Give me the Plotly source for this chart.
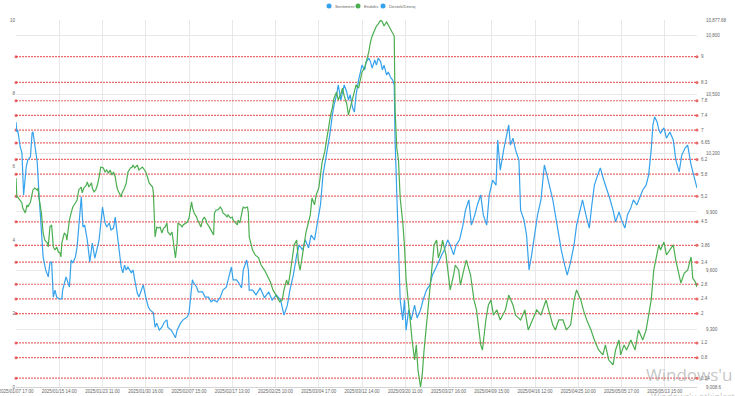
import plotly.graph_objects as go

# ---------------- data ----------------
x_tick_labels = [
    "2025/01/07 17:00", "2025/01/15 14:00", "2025/01/23 11:00", "2025/01/30 16:00",
    "2025/02/07 15:00", "2025/02/17 13:00", "2025/02/25 10:00", "2025/03/04 17:00",
    "2025/03/12 14:00", "2025/03/20 11:00", "2025/03/27 16:00", "2025/04/09 15:00",
    "2025/04/16 12:00", "2025/04/25 10:00", "2025/05/05 17:00", "2025/05/13 15:00",
]
points_per_label = 51
n_points = 804

sentiment_idx = [
    0, 1, 2, 5, 7, 9, 12, 14, 17, 19, 20, 22, 25, 27, 31, 32, 35, 38, 40, 42, 44, 46, 48, 51, 54, 55,
    59, 61, 63, 65, 67, 70, 72, 74, 77, 79, 81, 84, 85, 87, 90, 91, 93, 96, 98, 102, 103, 105, 107,
    110, 112, 115, 117, 119, 122, 124, 126, 128, 130, 132, 136, 138, 140, 143, 145, 149, 150, 153,
    156, 158, 162, 164, 166, 169, 172, 175, 178, 179, 183, 185, 188, 190, 194, 197, 202, 204, 208,
    209, 213, 215, 220, 223, 227, 230, 233, 237, 241, 244, 248, 251, 254, 256, 260, 262, 266, 268,
    272, 274, 275, 279, 283, 288, 293, 298, 302, 307, 312, 316, 320, 323, 327, 331, 334, 338, 341,
    345, 348, 352, 355, 359, 362, 366, 370, 373, 375, 378, 380, 383, 385, 387, 390, 392, 394, 397,
    399, 401, 404, 406, 408, 411, 413, 416, 418, 420, 423, 425, 427, 430, 432, 434, 437, 439, 442,
    444, 446, 447, 449, 451, 453, 456, 458, 460, 463, 466, 470, 473, 477, 480, 484, 488, 491, 495,
    498, 502, 505, 509, 512, 516, 519, 523, 527, 530, 534, 537, 541, 544, 548, 551, 555, 558, 562,
    566, 568, 571, 575, 579, 581, 583, 586, 589, 593, 595, 599, 602, 605, 608, 612, 615, 619, 623,
    626, 630, 633, 636, 640, 643, 647, 650, 654, 658, 661, 665, 668, 672, 676, 679, 682, 686, 689,
    693, 697, 700, 704, 707, 711, 714, 718, 721, 725, 728, 732, 736, 739, 743, 746, 749, 751, 753,
    756, 758, 760, 764, 767, 771, 775, 778, 782, 785, 789, 792, 796, 799, 803,
]
sentiment_vals = [
    7.22, 6.95, 7.00, 6.54, 6.38, 5.23, 5.99, 6.19, 6.27, 6.92, 6.95, 6.65, 6.13, 5.29, 3.65, 3.54,
    3.19, 3.00, 3.38, 3.41, 2.45, 2.64, 2.45, 2.40, 2.40, 2.64, 3.00, 2.86, 2.72, 3.46, 3.38, 3.54,
    3.81, 4.36, 5.18, 4.36, 4.41, 4.01, 3.81, 3.41, 3.92, 3.73, 3.51, 3.81, 4.01, 4.90, 4.74, 4.47,
    4.36, 4.47, 4.28, 4.33, 4.63, 4.20, 3.65, 3.27, 3.11, 3.32, 3.19, 3.27, 3.11, 3.19, 2.92, 2.56,
    2.45, 2.72, 2.78, 2.45, 2.18, 2.10, 2.02, 1.63, 1.74, 1.55, 1.63, 1.77, 1.83, 1.63, 1.55, 1.47,
    1.34, 1.55, 1.74, 1.83, 1.91, 2.02, 2.92, 2.86, 2.72, 2.59, 2.59, 2.45, 2.45, 2.32, 2.37, 2.32,
    2.45, 2.64, 2.72, 3.00, 3.27, 2.92, 2.92, 2.86, 2.70, 3.19, 3.46, 3.19, 2.64, 2.64, 2.51, 2.70,
    2.43, 2.59, 2.37, 2.51, 2.37, 1.96, 2.23, 2.64, 3.05, 3.60, 3.87, 3.73, 4.01, 3.79, 4.14, 4.01,
    4.41, 4.96, 5.78, 6.32, 6.87, 7.41, 7.68, 7.96, 8.23, 7.82, 8.04, 8.23, 8.04, 7.82, 7.96, 7.60,
    7.49, 7.96, 8.37, 8.58, 8.77, 8.64, 8.86, 8.96, 8.86, 8.69, 8.91, 8.77, 8.96, 8.86, 8.64, 8.77,
    8.50, 8.58, 8.42, 8.37, 8.23, 6.73, 5.10, 3.46, 2.37, 1.83, 2.37, 1.55, 2.10, 1.83, 2.23, 1.88,
    2.10, 2.37, 2.64, 2.78, 3.05, 3.24, 3.41, 3.60, 3.73, 4.01, 3.87, 3.60, 3.87, 4.01, 4.41, 4.82,
    5.10, 4.41, 4.69, 4.96, 5.23, 4.69, 4.41, 5.23, 5.64, 5.50, 6.73, 5.91, 6.46, 6.87, 7.14, 6.59,
    6.78, 6.46, 6.19, 4.82, 4.55, 4.14, 3.19, 3.60, 4.28, 4.69, 5.10, 6.05, 5.78, 5.37, 5.10, 4.69,
    4.14, 3.73, 3.32, 3.05, 3.41, 3.87, 4.41, 4.82, 5.10, 4.69, 4.33, 4.96, 5.50, 5.78, 5.97, 5.64,
    5.37, 5.15, 4.82, 4.50, 4.77, 4.55, 4.33, 4.69, 4.88, 5.10, 4.96, 5.23, 5.37, 5.50, 5.78, 6.46,
    7.14, 7.36, 7.22, 7.00, 6.92, 7.06, 6.78, 6.95, 6.73, 6.19, 5.86, 6.32, 6.51, 6.59, 6.05, 5.78,
    5.42,
]

endeks_idx = [
    0, 1, 2, 5, 7, 8, 11, 13, 14, 17, 19, 20, 22, 25, 26, 27, 30, 31, 32, 34, 37, 38, 40, 42, 44, 46,
    48, 50, 52, 53, 54, 57, 59, 60, 63, 65, 67, 70, 72, 74, 77, 78, 80, 83, 84, 86, 89, 90, 92, 94,
    96, 98, 100, 103, 105, 107, 109, 111, 113, 115, 117, 119, 120, 124, 125, 128, 130, 132, 135,
    137, 138, 140, 143, 145, 149, 150, 153, 155, 157, 161, 162, 164, 166, 168, 170, 172, 174, 176,
    178, 179, 182, 184, 185, 188, 190, 191, 194, 196, 197, 200, 202, 204, 207, 208, 210, 213, 214,
    216, 218, 220, 222, 224, 225, 228, 230, 233, 234, 236, 238, 241, 243, 244, 247, 249, 250, 253,
    255, 256, 259, 261, 262, 264, 267, 268, 270, 273, 274, 275, 279, 282, 286, 289, 293, 296, 300,
    303, 307, 311, 314, 316, 319, 321, 323, 326, 328, 331, 333, 335, 338, 340, 342, 345, 347, 349,
    352, 354, 357, 359, 361, 364, 366, 368, 371, 373, 375, 378, 380, 383, 385, 387, 390, 392, 394,
    397, 399, 401, 404, 406, 408, 411, 413, 416, 418, 420, 423, 425, 427, 430, 432, 434, 437, 439,
    442, 444, 446, 447, 449, 451, 453, 456, 458, 460, 463, 465, 467, 470, 472, 474, 477, 479, 481,
    484, 486, 489, 491, 493, 496, 498, 501, 503, 507, 510, 512, 516, 518, 522, 524, 528, 531, 536,
    540, 543, 548, 550, 554, 557, 560, 563, 567, 571, 577, 581, 586, 589, 595, 600, 604, 609, 614,
    619, 625, 628, 633, 636, 640, 645, 649, 654, 658, 661, 666, 669, 673, 678, 682, 687, 692, 695,
    699, 704, 707, 711, 713, 717, 720, 725, 730, 734, 739, 743, 746, 749, 752, 756, 758, 760, 764,
    767, 771, 775, 778, 782, 784, 788, 792, 796, 798, 801, 803,
]
endeks_vals = [
    10073, 9976, 9976, 9961, 9946, 9920, 9895, 9936, 9925, 9951, 9987, 10012, 10022, 10012, 10022,
    9976, 9895, 9823, 9793, 9757, 9742, 9722, 9823, 9834, 9722, 9706, 9722, 9696, 9691, 9671, 9742,
    9793, 9783, 9757, 9859, 9895, 9925, 9946, 9961, 10012, 10027, 9997, 10022, 10037, 10053, 10027,
    10048, 10022, 10002, 10012, 10037, 10078, 10129, 10124, 10104, 10114, 10098, 10114, 10088,
    10104, 10078, 10027, 10012, 9976, 9997, 10022, 10048, 10104, 10124, 10129, 10139, 10124, 10139,
    10114, 10129, 10124, 10104, 10078, 10048, 10027, 9997, 9773, 9823, 9818, 9823, 9793, 9818, 9823,
    9844, 9798, 9783, 9798, 9757, 9666, 9742, 9844, 9834, 9823, 9834, 9844, 9849, 9869, 9951, 9925,
    9895, 9874, 9859, 9844, 9823, 9859, 9874, 9859, 9844, 9823, 9808, 9783, 9895, 9910, 9910, 9925,
    9910, 9895, 9885, 9874, 9885, 9869, 9874, 9859, 9844, 9834, 9859, 9844, 9910, 9925, 9920, 9925,
    9895, 9773, 9706, 9681, 9666, 9630, 9604, 9579, 9543, 9503, 9472, 9442, 9452, 9503, 9554, 9528,
    9579, 9681, 9732, 9757, 9645, 9604, 9681, 9732, 9798, 9849, 9885, 9971, 9936, 9987, 10022, 10088,
    10155, 10206, 10256, 10328, 10394, 10430, 10481, 10511, 10470, 10501, 10531, 10491, 10450, 10394,
    10430, 10481, 10521, 10547, 10531, 10582, 10613, 10633, 10664, 10715, 10766, 10796, 10827, 10847,
    10857, 10877.68, 10868, 10847, 10868, 10852, 10827, 10806, 10796, 10419, 10226, 10165, 9971, 9849,
    9732, 9554, 9442, 9340, 9248, 9146, 9223, 9095, 9008.6, 9070, 9187, 9324, 9452, 9564, 9681, 9732,
    9757, 9666, 9706, 9757, 9681, 9554, 9503, 9579, 9630, 9604, 9528, 9604, 9655, 9579, 9452, 9401,
    9223, 9197, 9350, 9426, 9452, 9375, 9401, 9350, 9401, 9477, 9426, 9375, 9350, 9401, 9299, 9350,
    9401, 9375, 9452, 9401, 9324, 9299, 9350, 9350, 9299, 9324, 9452, 9503, 9452, 9401, 9350, 9299,
    9248, 9197, 9172, 9223, 9146, 9121, 9197, 9248, 9172, 9223, 9197, 9248, 9197, 9299, 9248, 9299,
    9375, 9452, 9604, 9681, 9732, 9706, 9747, 9681, 9706, 9732, 9655, 9579, 9538, 9589, 9604, 9671,
    9564, 9543, 9518,
]

levels = [9, 8.3, 7.8, 7.4, 7, 6.65, 6.2, 5.8, 5.2, 4.5, 3.86, 3.4, 2.8, 2.4, 2, 1.2, 0.8, 0.24]

y2_min = 9008.6
y2_max = 10877.68
y2_ticks = [9008.6, 9300, 9600, 9900, 10200, 10500, 10800, 10877.68]
y2_tick_text = ["9,008.6", "9,300", "9,600", "9,900", "10,200", "10,500", "10,800", "10,877.68"]

series_names = ["Sentiment", "Endeks", "Destek/Direnç"]

# ---------------- figure ----------------
BLUE = "#36a2eb"
GREEN = "#4cae50"
RED = "rgba(226,55,55,0.75)"
FONT = "Liberation Sans, Arial, sans-serif"
TXT = "#666666"
FS = 4.5

fig = go.Figure()

# support / resistance levels
lx, ly = [], []
for lv in levels:
    lx += [0, n_points - 1, None]
    ly += [lv, lv, None]
fig.add_trace(go.Scatter(
    x=lx, y=ly, mode="lines+markers", showlegend=False, hoverinfo="skip",
    line=dict(color=RED, width=1.2, dash="2px,1px"),
    marker=dict(color=RED, size=3), cliponaxis=False,
))

fig.add_trace(go.Scatter(
    x=endeks_idx, y=endeks_vals, yaxis="y2", mode="lines", showlegend=False,
    line=dict(color=GREEN, width=1.2),
))
fig.add_trace(go.Scatter(
    x=sentiment_idx, y=sentiment_vals, mode="lines", showlegend=False,
    line=dict(color=BLUE, width=1.2),
))

# level labels
for lv in levels:
    fig.add_annotation(
        x=1, xref="paper", y=lv, yref="y", text=f"{lv:g}", showarrow=False,
        xanchor="left", xshift=2, font=dict(size=FS, color=TXT, family=FONT),
    )

# legend (circle marker + label), centred at the top
legend_marker_x = [329, 358, 383]
legend_colors = [BLUE, GREEN, BLUE]
for name, col, mx in zip(series_names, legend_colors, legend_marker_x):
    fig.add_shape(type="circle", xref="paper", yref="paper",
                  x0=(mx - 2.5 - 16) / 681, x1=(mx + 2.5 - 16) / 681,
                  y0=(387 - 8.5) / 367, y1=(387 - 3.5) / 367,
                  fillcolor=col, line=dict(width=0))
    fig.add_annotation(x=(mx + 4 - 16) / 681, xref="paper", y=(387 - 6) / 367, yref="paper",
                       text=name, showarrow=False, xanchor="left", yanchor="middle",
                       font=dict(size=4.3, color=TXT, family=FONT))

# Windows activation watermark (as in the screenshot)
fig.add_annotation(
    x=(644 - 16) / 681, xref="paper", y=-0.004, yref="paper", text="Windows'u Etkinleştir",
    showarrow=False, xanchor="left", yanchor="bottom",
    font=dict(size=17, color="rgba(160,160,160,0.6)", family="Open Sans"),
)
fig.add_annotation(
    x=(649 - 16) / 681, xref="paper", y=-0.0027, yref="paper",
    text="Windows'u etkinleştirmek için Ayarlar'a gidin.",
    showarrow=False, xanchor="left", yanchor="top",
    font=dict(size=9, color="rgba(160,160,160,0.6)", family="Open Sans"),
)

fig.update_layout(
    width=735, height=396,
    margin=dict(l=16, r=38, t=20, b=9, autoexpand=False),
    paper_bgcolor="white", plot_bgcolor="white",
    font=dict(family=FONT, size=FS, color=TXT),
    showlegend=False,
    xaxis=dict(
        range=[0, n_points - 1],
        tickvals=[i * points_per_label for i in range(len(x_tick_labels))],
        ticktext=x_tick_labels, tickangle=0,
        showgrid=True, gridcolor="#e8e8e8", gridwidth=1,
        zeroline=False, showline=True, linecolor="#d4d4d4",
        tickfont=dict(size=FS, color=TXT), ticks="", ticklabelstandoff=0,
        ticklabeloverflow="allow", automargin=False,
    ),
    yaxis=dict(
        range=[0, 10], tickvals=[0, 2, 4, 6, 8, 10],
        showgrid=False, zeroline=False, showline=False,
        tickfont=dict(size=FS, color=TXT), ticks="", automargin=False,
        ticklabeloverflow="allow",
    ),
    yaxis2=dict(
        overlaying="y", side="right", range=[y2_min, y2_max],
        tickvals=y2_ticks, ticktext=y2_tick_text,
        showgrid=True, gridcolor="#e8e8e8", zeroline=False, showline=False,
        tickfont=dict(size=FS, color=TXT), ticks="", ticklabelstandoff=8,
        ticklabeloverflow="allow", automargin=False,
    ),
)

fig.write_html(
    "out.html",
    config={"displayModeBar": False},
    post_script="document.body.style.margin='0';document.body.style.overflow='hidden';",
)
